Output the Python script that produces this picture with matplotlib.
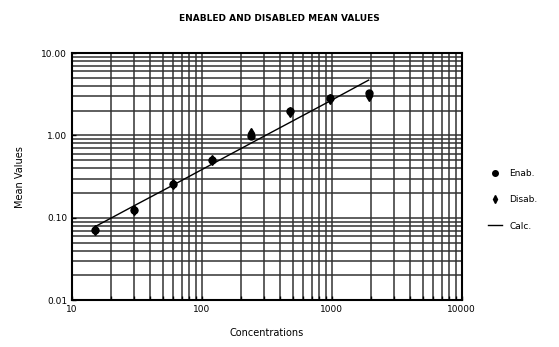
import numpy as np
import matplotlib.pyplot as plt
from matplotlib.ticker import FixedLocator, FixedFormatter, LogLocator, NullFormatter

# dilution series
conc = [15, 30, 60, 120, 240, 480, 960, 1920]
enab = [0.071, 0.126, 0.26, 0.51, 0.98, 1.97, 2.82, 3.3]
disab = [0.072, 0.125, 0.26, 0.50, 1.06, 1.95, 2.80, 3.0]
calc = [0.078, 0.140, 0.25, 0.45, 0.81, 1.45, 2.6, 4.7]

x_ticks = [10, 100, 1000, 10000]
x_labels = ["10", "100", "1000", "10000"]
y_ticks = [0.01, 0.1, 1, 10]
y_labels = ["0.01", "0.10", "1.00", "10.00"]

fig = plt.figure(figsize=(5.59, 3.47), dpi=100)
ax = fig.add_axes([0.129, 0.135, 0.697, 0.712])

ax.set_xscale("log")
ax.set_yscale("log")
ax.set_xlim(10, 10000)
ax.set_ylim(0.01, 10)

ax.xaxis.set_major_locator(FixedLocator(x_ticks))
ax.xaxis.set_major_formatter(FixedFormatter(x_labels))
ax.yaxis.set_major_locator(FixedLocator(y_ticks))
ax.yaxis.set_major_formatter(FixedFormatter(y_labels))
for axis in (ax.xaxis, ax.yaxis):
    axis.set_minor_locator(LogLocator(base=10, subs=np.arange(2, 10)))
    axis.set_minor_formatter(NullFormatter())

ax.grid(True, which="both", color="#333333", linewidth=1.1)
ax.set_axisbelow(True)
for s in ax.spines.values():
    s.set_linewidth(1.5)

ax.tick_params(which="both", labelsize=6.5, length=3, direction="in", width=1)
ax.tick_params(axis="y", which="minor", length=0)

ax.plot(conc, calc, color="black", linewidth=1.0, label="Calc.", zorder=3)
ax.plot(conc, enab, "o", color="black", markersize=5, label="Enab.", zorder=4)
ax.plot(conc, disab, "d", color="black", markersize=5, label="Disab.", zorder=4)

handles, labels = ax.get_legend_handles_labels()
order = [1, 2, 0]
fig.legend([handles[i] for i in order], [labels[i] for i in order],
           loc="center left", bbox_to_anchor=(0.858, 0.424), frameon=False,
           fontsize=6.5, handlelength=1.6, labelspacing=1.9, markerscale=0.8)

ax.set_xlabel("Concentrations", fontsize=7, labelpad=10)
ax.set_ylabel("Mean Values", fontsize=7, labelpad=12)
fig.suptitle("ENABLED AND DISABLED MEAN VALUES", fontsize=6.5,
             fontweight="bold", y=0.96)

fig.savefig("out.png", dpi=100)
